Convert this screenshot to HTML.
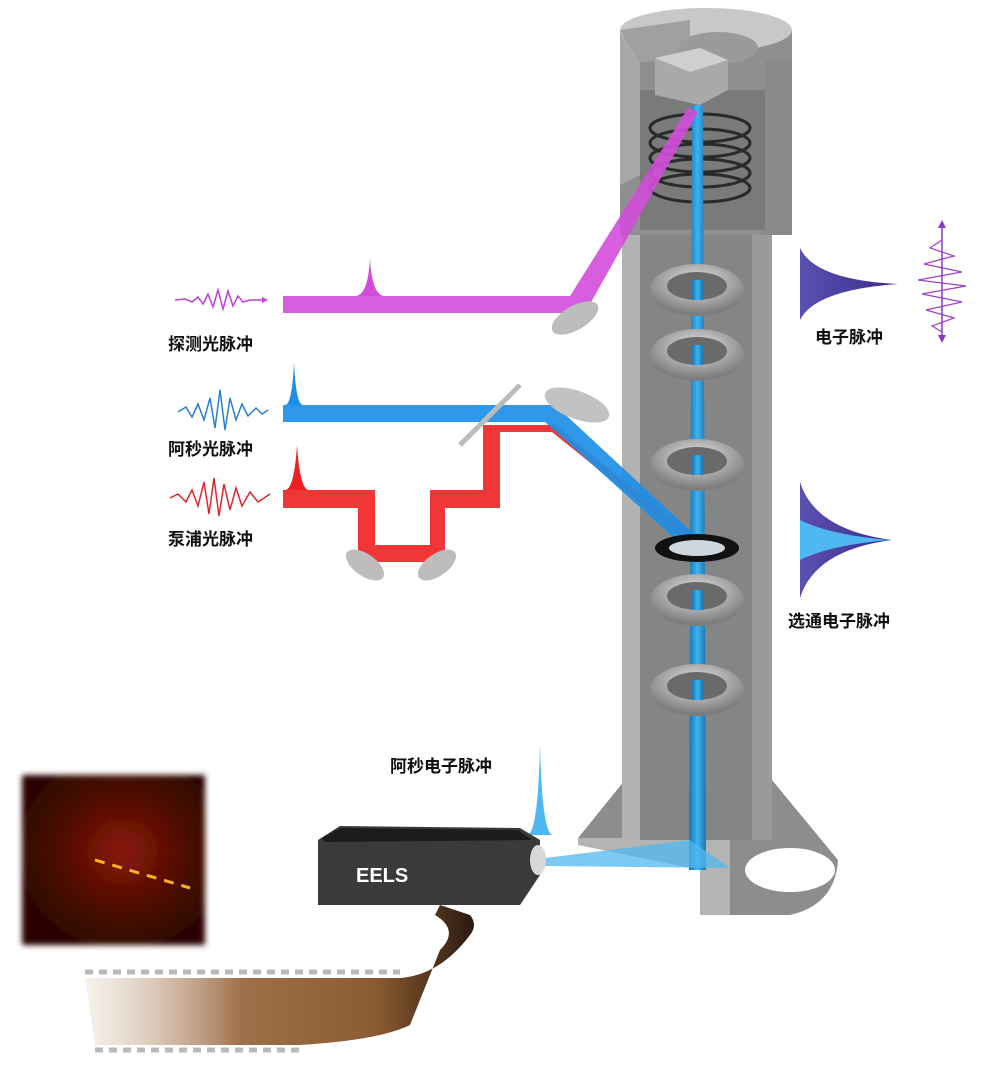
<!DOCTYPE html>
<html><head><meta charset="utf-8"><style>
html,body{margin:0;padding:0;background:#fff}
svg{display:block}
text{font-family:"Liberation Sans","Noto Sans CJK SC",sans-serif;font-weight:bold}
</style></head><body>
<svg width="984" height="1080" viewBox="0 0 984 1080" xmlns="http://www.w3.org/2000/svg">
<defs>
<linearGradient id="col" x1="0" x2="1">
<stop offset="0" stop-color="#9a9a9a"/><stop offset="0.5" stop-color="#8a8a8a"/><stop offset="1" stop-color="#6c6c6c"/>
</linearGradient>
<linearGradient id="beam" x1="0" x2="1">
<stop offset="0" stop-color="#1476b8"/><stop offset="0.5" stop-color="#3fb2ee"/><stop offset="1" stop-color="#1476b8"/>
</linearGradient>
<radialGradient id="ring" cx="0.5" cy="0.35" r="0.6">
<stop offset="0" stop-color="#e6e6e6"/><stop offset="1" stop-color="#7d7d7d"/>
</radialGradient>
<radialGradient id="diff" cx="0.55" cy="0.45" r="0.6">
<stop offset="0" stop-color="#8a1a08"/><stop offset="0.6" stop-color="#4a0a04"/><stop offset="1" stop-color="#2a0603"/>
</radialGradient>
<linearGradient id="film" x1="0" x2="1">
<stop offset="0" stop-color="#e8ddd0" stop-opacity="0.4"/><stop offset="0.4" stop-color="#a0704a"/><stop offset="0.75" stop-color="#8a5a30"/><stop offset="1" stop-color="#2a1a10"/>
</linearGradient>
<linearGradient id="gpulse" x1="0" x2="1">
<stop offset="0" stop-color="#5a50b0"/><stop offset="1" stop-color="#3a2d8c"/>
</linearGradient>
<filter id="blur"><feGaussianBlur stdDeviation="3"/></filter>
</defs>

<!-- base flare -->
<path d="M578 838 L625 780 L772 780 L838 860 Q835 905 790 915 L730 915 L730 838 Z" fill="#8d8d8d"/>
<path d="M578 838 L730 838 L730 915 L700 915 L700 870 L578 845 Z" fill="#b4b4b4"/>
<ellipse cx="790" cy="870" rx="45" ry="22" fill="#fff"/>
<!-- lower column -->
<rect x="622" y="230" width="150" height="610" fill="url(#col)"/>
<rect x="622" y="230" width="18" height="610" fill="#b2b2b2"/>
<rect x="640" y="230" width="112" height="610" fill="#858585"/>
<rect x="752" y="230" width="20" height="610" fill="#9a9a9a"/>
<!-- upper column -->
<rect x="620" y="30" width="172" height="205" fill="#8f8f8f"/>
<path d="M620 30 L620 185 L640 175 L640 60 Z" fill="#a8a8a8"/>
<rect x="640" y="90" width="125" height="140" fill="#7a7a7a"/>
<rect x="765" y="60" width="27" height="175" fill="#8a8a8a"/>
<ellipse cx="706" cy="30" rx="86" ry="22" fill="#c8c8c8"/>
<path d="M620 30 L690 20 L690 60 L640 62 Z" fill="#a0a0a0"/>
<ellipse cx="718" cy="48" rx="40" ry="16" fill="#9a9a9a"/>
<path d="M655 58 L700 48 L728 60 L728 90 L700 105 L655 95 Z" fill="#a9a9a9"/>
<path d="M655 58 L700 48 L728 60 L690 72 Z" fill="#cfcfcf"/>
<!-- coil -->
<g fill="none" stroke="#2a2a2a" stroke-width="3">
<ellipse cx="700" cy="128" rx="50" ry="14"/>
<ellipse cx="700" cy="143" rx="50" ry="14"/>
<ellipse cx="700" cy="158" rx="50" ry="14"/>
<ellipse cx="700" cy="173" rx="50" ry="14"/>
<ellipse cx="700" cy="188" rx="50" ry="14"/>
</g>
<path d="M692 105 L703 105 L706 870 L689 870 Z" fill="url(#beam)"/>
<path d="M283 296 L570 296 L688 108 L698 112 L585 313 L283 313 Z" fill="#d24cdc" opacity="0.9"/>
<g>
<ellipse cx="697" cy="290" rx="47" ry="26" fill="url(#ring)"/><ellipse cx="697" cy="286" rx="30" ry="14" fill="#6a6a6a"/>
<ellipse cx="697" cy="355" rx="47" ry="26" fill="url(#ring)"/><ellipse cx="697" cy="351" rx="30" ry="14" fill="#6a6a6a"/>
<ellipse cx="697" cy="465" rx="47" ry="26" fill="url(#ring)"/><ellipse cx="697" cy="461" rx="30" ry="14" fill="#6a6a6a"/>
<ellipse cx="697" cy="600" rx="47" ry="26" fill="url(#ring)"/><ellipse cx="697" cy="596" rx="30" ry="14" fill="#6a6a6a"/>
<ellipse cx="697" cy="690" rx="47" ry="26" fill="url(#ring)"/><ellipse cx="697" cy="686" rx="30" ry="14" fill="#6a6a6a"/>
</g>
<path d="M692 280 L703 280 L703 300 L692 300 Z M692 345 L703 345 L703 365 L692 365 Z M692 455 L703 455 L703 475 L692 475 Z M692 590 L703 590 L703 610 L692 610 Z M692 680 L703 680 L703 700 L692 700 Z" fill="url(#beam)"/>
<path d="M283 490 L375 490 L375 545 L430 545 L430 490 L483 490 L483 425 L555 425 L690 535 L686 540 L552 432 L500 432 L500 508 L445 508 L445 562 L358 562 L358 508 L283 508 Z" fill="#ee2020" opacity="0.9"/>
<path d="M283 405 L490 405 L555 405 L695 535 L682 545 L545 422 L283 422 Z" fill="#1e8fe6" opacity="0.92"/>
<ellipse cx="697" cy="548" rx="42" ry="14" fill="#111"/>
<ellipse cx="697" cy="548" rx="28" ry="8" fill="#cfd6dc"/>
<ellipse cx="575" cy="318" rx="26" ry="12" transform="rotate(-30 575 318)" fill="#bdbdbd"/>
<ellipse cx="577" cy="405" rx="34" ry="14" transform="rotate(20 577 405)" fill="#c2c2c2"/>
<path d="M460 445 L520 385" stroke="#bbb" stroke-width="5"/>
<ellipse cx="365" cy="565" rx="22" ry="11" transform="rotate(35 365 565)" fill="#bdbdbd"/>
<ellipse cx="437" cy="565" rx="22" ry="11" transform="rotate(-35 437 565)" fill="#bdbdbd"/>
<path d="M355 296 Q368 296 370 258 Q372 296 385 296 Z" fill="#d24cdc"/>
<path d="M285 405 Q292 405 294 362 Q296 405 303 405 Z" fill="#1e8fe6"/>
<path d="M285 490 Q294 490 297 445 Q300 490 309 490 Z" fill="#ee2020"/>
<!-- waves -->
<polyline points="175,300 185,299 192,302 198,297 203,304 208,294 213,307 218,290 223,309 228,291 233,306 238,296 243,302 250,300 262,300" fill="none" stroke="#c040d8" stroke-width="1.5"/>
<path d="M262 297 L268 300 L262 303 Z" fill="#c040d8"/>
<polyline points="178,412 186,407 192,417 198,404 204,420 210,398 215,428 220,390 225,430 230,398 236,420 242,404 248,416 256,408 262,414 268,410" fill="none" stroke="#2c7fd0" stroke-width="1.5"/>
<polyline points="170,498 178,494 186,502 192,490 198,506 204,482 209,514 214,478 219,516 224,484 230,510 236,488 242,506 250,492 258,502 270,494" fill="none" stroke="#d82a2a" stroke-width="1.5"/>
<text x="168" y="350" font-size="17" fill="#111">探测光脉冲</text>
<text x="168" y="455" font-size="17" fill="#111">阿秒光脉冲</text>
<text x="168" y="545" font-size="17" fill="#111">泵浦光脉冲</text>
<text x="815" y="343" font-size="17" fill="#111">电子脉冲</text>
<text x="788" y="627" font-size="17" fill="#111">选通电子脉冲</text>
<text x="390" y="772" font-size="17" fill="#111">阿秒电子脉冲</text>
<path d="M800 248 Q815 280 898 284 Q815 290 800 320 Z" fill="url(#gpulse)"/>
<path d="M800 482 Q815 530 892 540 Q815 550 800 598 Z" fill="url(#gpulse)"/>
<path d="M800 520 Q830 535 890 540 Q830 545 800 560 Z" fill="#4fb8f0"/>
<path d="M942 228 L942 335" stroke="#8a3cc4" stroke-width="1.5"/>
<path d="M938 228 L942 220 L946 228 Z M938 335 L942 343 L946 335 Z" fill="#8a3cc4"/>
<polyline points="942,240 930,248 954,256 924,264 962,272 918,280 966,286 922,294 962,302 926,310 954,318 932,326 942,332" fill="none" stroke="#a040c8" stroke-width="1.2"/>
<path d="M528 835 Q538 830 540 745 Q542 830 552 835 Z" fill="#4fb8f0"/>
<path d="M545 858 L690 840 L730 868 L545 866 Z" fill="#4fb8f0" opacity="0.75"/>
<path d="M318 840 L340 826 L520 828 L540 840 L540 875 L520 905 L318 905 Z" fill="#3a3a3a"/>
<path d="M322 838 L340 828 L518 830 L532 840 L325 842 Z" fill="#1c1c1c"/>
<ellipse cx="538" cy="860" rx="8" ry="15" fill="#d8d8d8"/>
<text x="356" y="882" font-size="20" fill="#fff">EELS</text>
<rect x="22" y="775" width="183" height="170" fill="url(#diff)" filter="url(#blur)"/>
<path d="M95 860 L190 888" stroke="#ffb020" stroke-width="3" stroke-dasharray="10 8"/>
<path d="M85 978 L400 978 Q440 975 470 935 Q478 925 470 915 L440 905 L435 915 Q460 930 440 950 L410 1025 Q380 1040 300 1045 L95 1045 Z" fill="url(#film)"/>
<path d="M85 972 L400 972 M95 1050 L300 1050" stroke="#777" stroke-width="5" stroke-dasharray="8 6" opacity="0.5"/>
</svg>
</body></html>
